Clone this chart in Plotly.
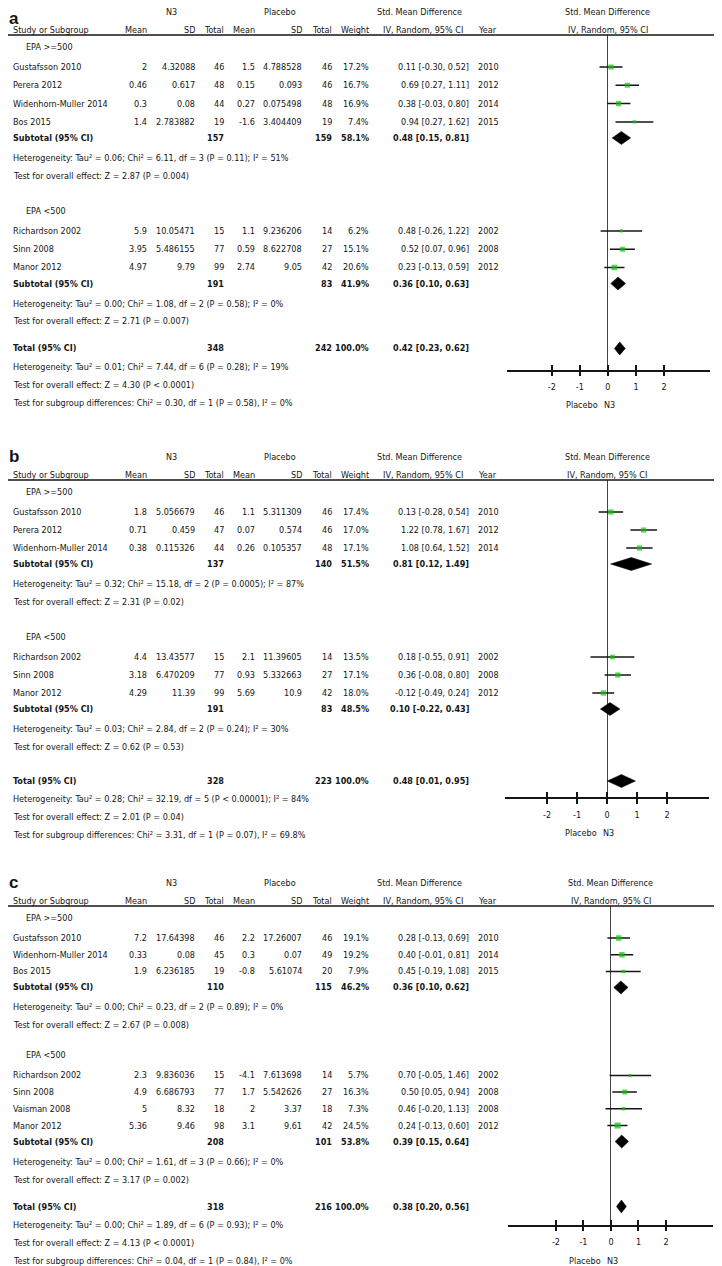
import plotly.graph_objects as go

W, H = 722, 1266
OFF = 8                      # the page body margin shifts the figure by 8px
FW, FH = W - OFF, H - OFF    # figure size
FONT = "DejaVu Sans Condensed, Liberation Sans, Arial, sans-serif"
FS = 9
INK = "#151515"
GREEN = "#10c010"

# ---------------------------------------------------------------- panel a
A_STUDY = ["Gustafsson 2010", "Perera 2012", "Widenhorn-Muller 2014", "Bos 2015",
           "Richardson 2002", "Sinn 2008", "Manor 2012"]
A_GROUP = [0, 0, 0, 0, 1, 1, 1]
A_N3_MEAN = [2, 0.46, 0.3, 1.4, 5.9, 3.95, 4.97]
A_N3_SD = [4.32088, 0.617, 0.08, 2.783882, 10.05471, 5.486155, 9.79]
A_N3_N = [46, 48, 44, 19, 15, 77, 99]
A_PL_MEAN = [1.5, 0.15, 0.27, -1.6, 1.1, 0.59, 2.74]
A_PL_SD = [4.788528, 0.093, 0.075498, 3.404409, 9.236206, 8.622708, 9.05]
A_PL_N = [46, 46, 48, 19, 14, 27, 42]
A_WEIGHT = [17.2, 16.7, 16.9, 7.4, 6.2, 15.1, 20.6]
A_SMD = [0.11, 0.69, 0.38, 0.94, 0.48, 0.52, 0.23]
A_LO = [-0.30, 0.27, -0.03, 0.27, -0.26, 0.07, -0.13]
A_HI = [0.52, 1.11, 0.80, 1.62, 1.22, 0.96, 0.59]
A_YEAR = [2010, 2012, 2014, 2015, 2002, 2008, 2012]
# subgroup 1, subgroup 2, overall
A_POOL_N3 = [157, 191, 348]
A_POOL_PL = [159, 83, 242]
A_POOL_W = [58.1, 41.9, 100.0]
A_POOL_SMD = [0.48, 0.36, 0.42]
A_POOL_LO = [0.15, 0.10, 0.23]
A_POOL_HI = [0.81, 0.63, 0.62]
A_HET = ["Tau² = 0.06; Chi² = 6.11, df = 3 (P = 0.11); I² = 51%",
         "Tau² = 0.00; Chi² = 1.08, df = 2 (P = 0.58); I² = 0%",
         "Tau² = 0.01; Chi² = 7.44, df = 6 (P = 0.28); I² = 19%"]
A_Z = ["Z = 2.87 (P = 0.004)", "Z = 2.71 (P = 0.007)", "Z = 4.30 (P < 0.0001)"]
A_SUBGROUP_TEST = "Chi² = 0.30, df = 1 (P = 0.58), I² = 0%"

# ---------------------------------------------------------------- panel b
B_STUDY = ["Gustafsson 2010", "Perera 2012", "Widenhorn-Muller 2014",
           "Richardson 2002", "Sinn 2008", "Manor 2012"]
B_GROUP = [0, 0, 0, 1, 1, 1]
B_N3_MEAN = [1.8, 0.71, 0.38, 4.4, 3.18, 4.29]
B_N3_SD = [5.056679, 0.459, 0.115326, 13.43577, 6.470209, 11.39]
B_N3_N = [46, 47, 44, 15, 77, 99]
B_PL_MEAN = [1.1, 0.07, 0.26, 2.1, 0.93, 5.69]
B_PL_SD = [5.311309, 0.574, 0.105357, 11.39605, 5.332663, 10.9]
B_PL_N = [46, 46, 48, 14, 27, 42]
B_WEIGHT = [17.4, 17.0, 17.1, 13.5, 17.1, 18.0]
B_SMD = [0.13, 1.22, 1.08, 0.18, 0.36, -0.12]
B_LO = [-0.28, 0.78, 0.64, -0.55, -0.08, -0.49]
B_HI = [0.54, 1.67, 1.52, 0.91, 0.80, 0.24]
B_YEAR = [2010, 2012, 2014, 2002, 2008, 2012]
B_POOL_N3 = [137, 191, 328]
B_POOL_PL = [140, 83, 223]
B_POOL_W = [51.5, 48.5, 100.0]
B_POOL_SMD = [0.81, 0.10, 0.48]
B_POOL_LO = [0.12, -0.22, 0.01]
B_POOL_HI = [1.49, 0.43, 0.95]
B_HET = ["Tau² = 0.32; Chi² = 15.18, df = 2 (P = 0.0005); I² = 87%",
         "Tau² = 0.03; Chi² = 2.84, df = 2 (P = 0.24); I² = 30%",
         "Tau² = 0.28; Chi² = 32.19, df = 5 (P < 0.00001); I² = 84%"]
B_Z = ["Z = 2.31 (P = 0.02)", "Z = 0.62 (P = 0.53)", "Z = 2.01 (P = 0.04)"]
B_SUBGROUP_TEST = "Chi² = 3.31, df = 1 (P = 0.07), I² = 69.8%"

# ---------------------------------------------------------------- panel c
C_STUDY = ["Gustafsson 2010", "Widenhorn-Muller 2014", "Bos 2015",
           "Richardson 2002", "Sinn 2008", "Vaisman 2008", "Manor 2012"]
C_GROUP = [0, 0, 0, 1, 1, 1, 1]
C_N3_MEAN = [7.2, 0.33, 1.9, 2.3, 4.9, 5, 5.36]
C_N3_SD = [17.64398, 0.08, 6.236185, 9.836036, 6.686793, 8.32, 9.46]
C_N3_N = [46, 45, 19, 15, 77, 18, 98]
C_PL_MEAN = [2.2, 0.3, -0.8, -4.1, 1.7, 2, 3.1]
C_PL_SD = [17.26007, 0.07, 5.61074, 7.613698, 5.542626, 3.37, 9.61]
C_PL_N = [46, 49, 20, 14, 27, 18, 42]
C_WEIGHT = [19.1, 19.2, 7.9, 5.7, 16.3, 7.3, 24.5]
C_SMD = [0.28, 0.40, 0.45, 0.70, 0.50, 0.46, 0.24]
C_LO = [-0.13, -0.01, -0.19, -0.05, 0.05, -0.20, -0.13]
C_HI = [0.69, 0.81, 1.08, 1.46, 0.94, 1.13, 0.60]
C_YEAR = [2010, 2014, 2015, 2002, 2008, 2008, 2012]
C_POOL_N3 = [110, 208, 318]
C_POOL_PL = [115, 101, 216]
C_POOL_W = [46.2, 53.8, 100.0]
C_POOL_SMD = [0.36, 0.39, 0.38]
C_POOL_LO = [0.10, 0.15, 0.20]
C_POOL_HI = [0.62, 0.64, 0.56]
C_HET = ["Tau² = 0.00; Chi² = 0.23, df = 2 (P = 0.89); I² = 0%",
         "Tau² = 0.00; Chi² = 1.61, df = 3 (P = 0.66); I² = 0%",
         "Tau² = 0.00; Chi² = 1.89, df = 6 (P = 0.93); I² = 0%"]
C_Z = ["Z = 2.67 (P = 0.008)", "Z = 3.17 (P = 0.002)", "Z = 4.13 (P < 0.0001)"]
C_SUBGROUP_TEST = "Chi² = 0.04, df = 1 (P = 0.84), I² = 0%"

SUBGROUPS = ["EPA >=500", "EPA <500"]
TICKS = [-2, -1, 0, 1, 2]

PANELS = [
    dict(letter="a", study=A_STUDY, group=A_GROUP, n3_mean=A_N3_MEAN, n3_sd=A_N3_SD,
         n3_n=A_N3_N, pl_mean=A_PL_MEAN, pl_sd=A_PL_SD, pl_n=A_PL_N, weight=A_WEIGHT,
         smd=A_SMD, lo=A_LO, hi=A_HI, year=A_YEAR, pool_n3=A_POOL_N3, pool_pl=A_POOL_PL,
         pool_w=A_POOL_W, pool_smd=A_POOL_SMD, pool_lo=A_POOL_LO, pool_hi=A_POOL_HI,
         het=A_HET, z=A_Z, sg=A_SUBGROUP_TEST,
         # layout (pixels of the page)
         top=12, step=18.3, gap_sub=35, gap_tot=27, axis_off=21,
         xdom=(507, 710), rng=(-3.6, 3.64)),
    dict(letter="b", study=B_STUDY, group=B_GROUP, n3_mean=B_N3_MEAN, n3_sd=B_N3_SD,
         n3_n=B_N3_N, pl_mean=B_PL_MEAN, pl_sd=B_PL_SD, pl_n=B_PL_N, weight=B_WEIGHT,
         smd=B_SMD, lo=B_LO, hi=B_HI, year=B_YEAR, pool_n3=B_POOL_N3, pool_pl=B_POOL_PL,
         pool_w=B_POOL_W, pool_smd=B_POOL_SMD, pool_lo=B_POOL_LO, pool_hi=B_POOL_HI,
         het=B_HET, z=B_Z, sg=B_SUBGROUP_TEST,
         top=457, step=18, gap_sub=35, gap_tot=34, axis_off=16,
         xdom=(505, 709), rng=(-3.4, 3.4)),
    dict(letter="c", study=C_STUDY, group=C_GROUP, n3_mean=C_N3_MEAN, n3_sd=C_N3_SD,
         n3_n=C_N3_N, pl_mean=C_PL_MEAN, pl_sd=C_PL_SD, pl_n=C_PL_N, weight=C_WEIGHT,
         smd=C_SMD, lo=C_LO, hi=C_HI, year=C_YEAR, pool_n3=C_POOL_N3, pool_pl=C_POOL_PL,
         pool_w=C_POOL_W, pool_smd=C_POOL_SMD, pool_lo=C_POOL_LO, pool_hi=C_POOL_HI,
         het=C_HET, z=C_Z, sg=C_SUBGROUP_TEST,
         top=883, step=16.7, gap_sub=30, gap_tot=27, axis_off=18,
         xdom=(508, 713), rng=(-3.745, 3.71)),
]

# column anchors (pixels); numeric columns are right aligned
X_STUDY, X_GROUP = 12, 25
X_N3_MEAN, X_N3_SD, X_N3_N = 148, 196, 225
X_PL_MEAN, X_PL_SD, X_PL_N = 256, 303, 333
X_WEIGHT, X_CI, X_YEAR = 370, 470, 477
X_CI_HEAD = 423


def px(x):
    return (x - OFF) / FW


def py(y):
    return 1 - (y - OFF) / FH


fig = go.Figure()


def txt(x, y, s, anchor="left", bold=False, size=FS, xref="paper", xshift=0,
        family=FONT, yanchor="middle"):
    fig.add_annotation(
        x=px(x) if xref == "paper" else x, y=py(y), xref=xref, yref="paper",
        text=f"<b>{s}</b>" if bold else s, showarrow=False, xanchor=anchor,
        yanchor=yanchor, xshift=xshift, borderpad=0,
        font=dict(family=family, size=size, color=INK),
    )


def fmt(v):
    return str(v)


def ci(e, lo, hi):
    return f"{e:.2f} [{lo:.2f}, {hi:.2f}]"


layout_axes = {}
for i, p in enumerate(PANELS, start=1):
    sfx = "" if i == 1 else str(i)
    xa, ya = f"x{sfx}", f"y{sfx}"
    top = p["top"]

    # ---- row positions
    rule = top + 23
    study_y = []
    pool_y, het_y, z_y = [], [], []
    cur = top + 35
    for g in range(2):
        txt(X_GROUP, cur, SUBGROUPS[g])
        n = p["group"].count(g)
        ys = [cur + 20 + k * p["step"] for k in range(n)]
        study_y += ys
        sub = ys[-1] + 16
        pool_y.append(sub)
        het_y.append(sub + 20)
        z_y.append(sub + 38)
        cur = sub + 38 + p["gap_sub"]
    total = z_y[-1] + p["gap_tot"]
    pool_y.append(total)
    het_y.append(total + 18)
    z_y.append(total + 36)
    sg_y = total + 54
    axis_y = total + p["axis_off"]

    # ---- headers
    txt(OFF, max(top - 11, OFF), p["letter"], bold=True, size=17,
        family="Liberation Sans, Arial", yanchor="top")
    txt(171, top, "N3", "center")
    txt(280, top, "Placebo", "center")
    txt(420, top, "Std. Mean Difference", "center")
    txt(0, top, "Std. Mean Difference", "center", xref=xa)
    hy = top + 18
    txt(X_STUDY, hy, "Study or Subgroup")
    txt(X_N3_MEAN, hy, "Mean", "right")
    txt(X_N3_SD, hy, "SD", "right")
    txt(X_N3_N, hy, "Total", "right")
    txt(X_PL_MEAN, hy, "Mean", "right")
    txt(X_PL_SD, hy, "SD", "right")
    txt(X_PL_N, hy, "Total", "right")
    txt(X_WEIGHT, hy, "Weight", "right")
    txt(X_CI_HEAD, hy, "IV, Random, 95% CI", "center")
    txt(X_YEAR, hy, "Year")
    txt(0, hy, "IV, Random, 95% CI", "center", xref=xa)
    fig.add_shape(type="line", xref="paper", yref="paper", x0=px(3), x1=px(718),
                  y0=py(rule), y1=py(rule), line=dict(color=INK, width=1.5))

    # ---- study rows
    for k, y in enumerate(study_y):
        txt(X_STUDY, y, p["study"][k])
        txt(X_N3_MEAN, y, fmt(p["n3_mean"][k]), "right")
        txt(X_N3_SD, y, fmt(p["n3_sd"][k]), "right")
        txt(X_N3_N, y, fmt(p["n3_n"][k]), "right")
        txt(X_PL_MEAN, y, fmt(p["pl_mean"][k]), "right")
        txt(X_PL_SD, y, fmt(p["pl_sd"][k]), "right")
        txt(X_PL_N, y, fmt(p["pl_n"][k]), "right")
        txt(X_WEIGHT, y, f"{p['weight'][k]:.1f}%", "right")
        txt(X_CI, y, ci(p["smd"][k], p["lo"][k], p["hi"][k]), "right")
        txt(X_YEAR, y, str(p["year"][k]))

    # ---- pooled rows and statistics
    for g in range(3):
        y = pool_y[g]
        txt(X_STUDY, y, "Subtotal (95% CI)" if g < 2 else "Total (95% CI)", bold=True)
        txt(X_N3_N, y, fmt(p["pool_n3"][g]), "right", bold=True)
        txt(X_PL_N, y, fmt(p["pool_pl"][g]), "right", bold=True)
        txt(X_WEIGHT, y, f"{p['pool_w'][g]:.1f}%", "right", bold=True)
        txt(X_CI, y, ci(p["pool_smd"][g], p["pool_lo"][g], p["pool_hi"][g]), "right", bold=True)
        txt(X_STUDY, het_y[g], "Heterogeneity: " + p["het"][g])
        txt(X_STUDY, z_y[g], "Test for overall effect: " + p["z"][g])
    txt(X_STUDY, sg_y, "Test for subgroup differences: " + p["sg"])

    # ---- forest marks
    fig.add_trace(go.Scatter(
        x=p["smd"], y=study_y, mode="markers", xaxis=xa, yaxis=ya,
        marker=dict(symbol="square", color=GREEN, line=dict(width=0),
                    size=[1.25 * w ** 0.5 for w in p["weight"]]),
        error_x=dict(type="data", symmetric=False,
                     array=[h - e for h, e in zip(p["hi"], p["smd"])],
                     arrayminus=[e - l for e, l in zip(p["smd"], p["lo"])],
                     color=INK, thickness=1.5, width=0),
        showlegend=False, hoverinfo="skip",
    ))
    half = 6.5
    for g in range(3):
        e, lo, hi, y = p["pool_smd"][g], p["pool_lo"][g], p["pool_hi"][g], pool_y[g]
        fig.add_trace(go.Scatter(
            x=[lo, e, hi, e, lo], y=[y, y - half, y, y + half, y],
            mode="lines", fill="toself", fillcolor="black",
            line=dict(color="black", width=0.5), xaxis=xa, yaxis=ya,
            showlegend=False, hoverinfo="skip",
        ))

    # ---- axes
    x0, x1 = p["xdom"]
    layout_axes[f"xaxis{sfx}"] = dict(
        domain=[px(x0), px(x1)], range=list(p["rng"]), anchor=ya,
        showline=True, linecolor=INK, linewidth=1.5,
        ticks="outside", ticklen=5, tickwidth=1.5, tickcolor=INK,
        tickvals=TICKS, ticktext=[str(t) for t in TICKS], ticklabelstandoff=3,
        tickfont=dict(family=FONT, size=FS, color=INK),
        zeroline=True, zerolinecolor="#444444", zerolinewidth=1,
        showgrid=False, fixedrange=True,
    )
    layout_axes[f"yaxis{sfx}"] = dict(
        domain=[py(axis_y), py(rule)], range=[axis_y, rule],
        visible=False, fixedrange=True,
    )
    # companion axis so the ticks cross the axis line
    j = i + 3
    layout_axes[f"xaxis{j}"] = dict(
        overlaying=xa, range=list(p["rng"]), anchor=ya,
        ticks="inside", ticklen=5, tickwidth=1.5, tickcolor=INK,
        tickvals=TICKS, showticklabels=False, showline=False,
        zeroline=False, showgrid=False, fixedrange=True,
    )
    fig.add_trace(go.Scatter(x=[None], y=[None], xaxis=f"x{j}", yaxis=ya,
                             showlegend=False, hoverinfo="skip"))

    txt(0, axis_y + 36, "Placebo", "right", xref=xa, xshift=-9)
    txt(0, axis_y + 36, "N3", "left", xref=xa, xshift=-5)

fig.update_layout(
    width=FW, height=FH,
    margin=dict(l=0, r=0, t=0, b=0),
    paper_bgcolor="white", plot_bgcolor="white",
    showlegend=False,
    **layout_axes,
)

fig.write_html("out.html")
